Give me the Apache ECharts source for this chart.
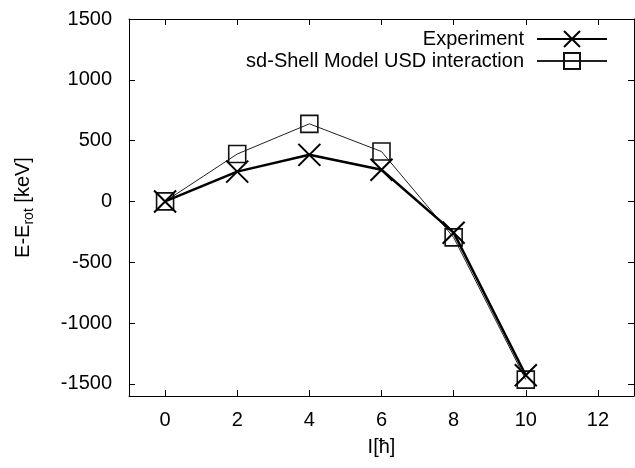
<!DOCTYPE html>
<html>
<head>
<meta charset="utf-8">
<script src="https://cdn.jsdelivr.net/npm/echarts@6/dist/echarts.min.js"></script>
<style>
  html, body { margin: 0; padding: 0; background: #fff; }
  #chart { width: 635px; height: 468px; }
</style>
</head>
<body>
<div id="chart"></div>
<script>
// spin values I and energies E - E_rot (keV)
const spins = [0, 2, 4, 6, 8, 10];
const experiment = [0, 245, 383, 260, -257, -1430];
const shellModel = [0, 390, 638, 410, -296, -1465];
const xTicks = [0, 2, 4, 6, 8, 10, 12];
const yTicks = [-1500, -1000, -500, 0, 500, 1000, 1500];

const font = 'Liberation Sans, Arial, sans-serif';
const fs = 20;

function pairs(ys) {
  let out = [];
  for (let i = 0; i < spins.length; i++) {
    out.push([spins[i], ys[i]]);
  }
  return out;
}

const tickStyle = {
  show: true,
  inside: true,
  length: 6,
  lineStyle: { color: '#000', width: 1 }
};
const axisLine = { show: true, onZero: false, lineStyle: { color: '#000', width: 1 } };

let option = {
  animation: false,
  backgroundColor: '#fff',
  grid: { left: 129, right: 1, top: 19, bottom: 72 },
  legend: {
    orient: 'vertical',
    right: 22,
    top: 24,
    align: 'right',
    itemGap: 2,
    itemWidth: 70,
    itemHeight: 20,
    textStyle: { fontFamily: font, fontSize: fs, color: '#000', padding: [0, 8, 0, 0] },
    data: ['Experiment', 'sd-Shell Model USD interaction']
  },
  xAxis: [{
    type: 'value',
    min: -1,
    max: 13,
    name: 'I[ħ]',
    nameLocation: 'middle',
    nameGap: 41,
    nameTextStyle: { fontFamily: font, fontSize: fs, color: '#000' },
    axisLine: axisLine,
    axisTick: Object.assign({ customValues: xTicks }, tickStyle),
    axisLabel: {
      customValues: xTicks,
      margin: 14,
      fontFamily: font,
      fontSize: fs,
      color: '#000'
    },
    splitLine: { show: false }
  }, {
    type: 'value',
    position: 'top',
    min: -1,
    max: 13,
    axisLine: axisLine,
    axisTick: Object.assign({ customValues: xTicks }, tickStyle),
    axisLabel: { show: false },
    splitLine: { show: false }
  }],
  yAxis: [{
    type: 'value',
    min: -1600,
    max: 1500,
    name: '{a|E-E}{s|rot}{a| [keV]}',
    nameLocation: 'middle',
    nameGap: 93,
    nameRotate: 90,
    nameTextStyle: {
      rich: {
        a: { fontFamily: font, fontSize: fs, color: '#000' },
        s: { fontFamily: font, fontSize: 14, color: '#000', padding: [12, 0, 0, 0] }
      }
    },
    axisLine: axisLine,
    axisTick: Object.assign({ customValues: yTicks }, tickStyle),
    axisLabel: {
      customValues: yTicks,
      margin: 17,
      fontFamily: font,
      fontSize: fs,
      color: '#000',
      formatter: function (v) { return String(v); }
    },
    splitLine: { show: false }
  }, {
    type: 'value',
    position: 'right',
    min: -1600,
    max: 1500,
    axisLine: axisLine,
    axisTick: Object.assign({ customValues: yTicks }, tickStyle),
    axisLabel: { show: false },
    splitLine: { show: false }
  }],
  series: [{
    name: 'sd-Shell Model USD interaction',
    type: 'line',
    data: pairs(shellModel),
    symbol: 'rect',
    symbolSize: 17,
    itemStyle: { color: 'rgba(0,0,0,0)', borderColor: '#111', borderWidth: 1.6 },
    lineStyle: { color: '#222', width: 1 },
    z: 2
  }, {
    name: 'Experiment',
    type: 'line',
    data: pairs(experiment),
    symbol: 'path://M0,0L10,10M10,0L0,10',
    symbolSize: 22,
    itemStyle: { color: 'rgba(0,0,0,0)', borderColor: '#000', borderWidth: 2 },
    lineStyle: { color: '#000', width: 2.5 },
    z: 3
  }]
};

const myChart = echarts.init(document.getElementById('chart'));
myChart.setOption(option);
</script>
</body>
</html>
